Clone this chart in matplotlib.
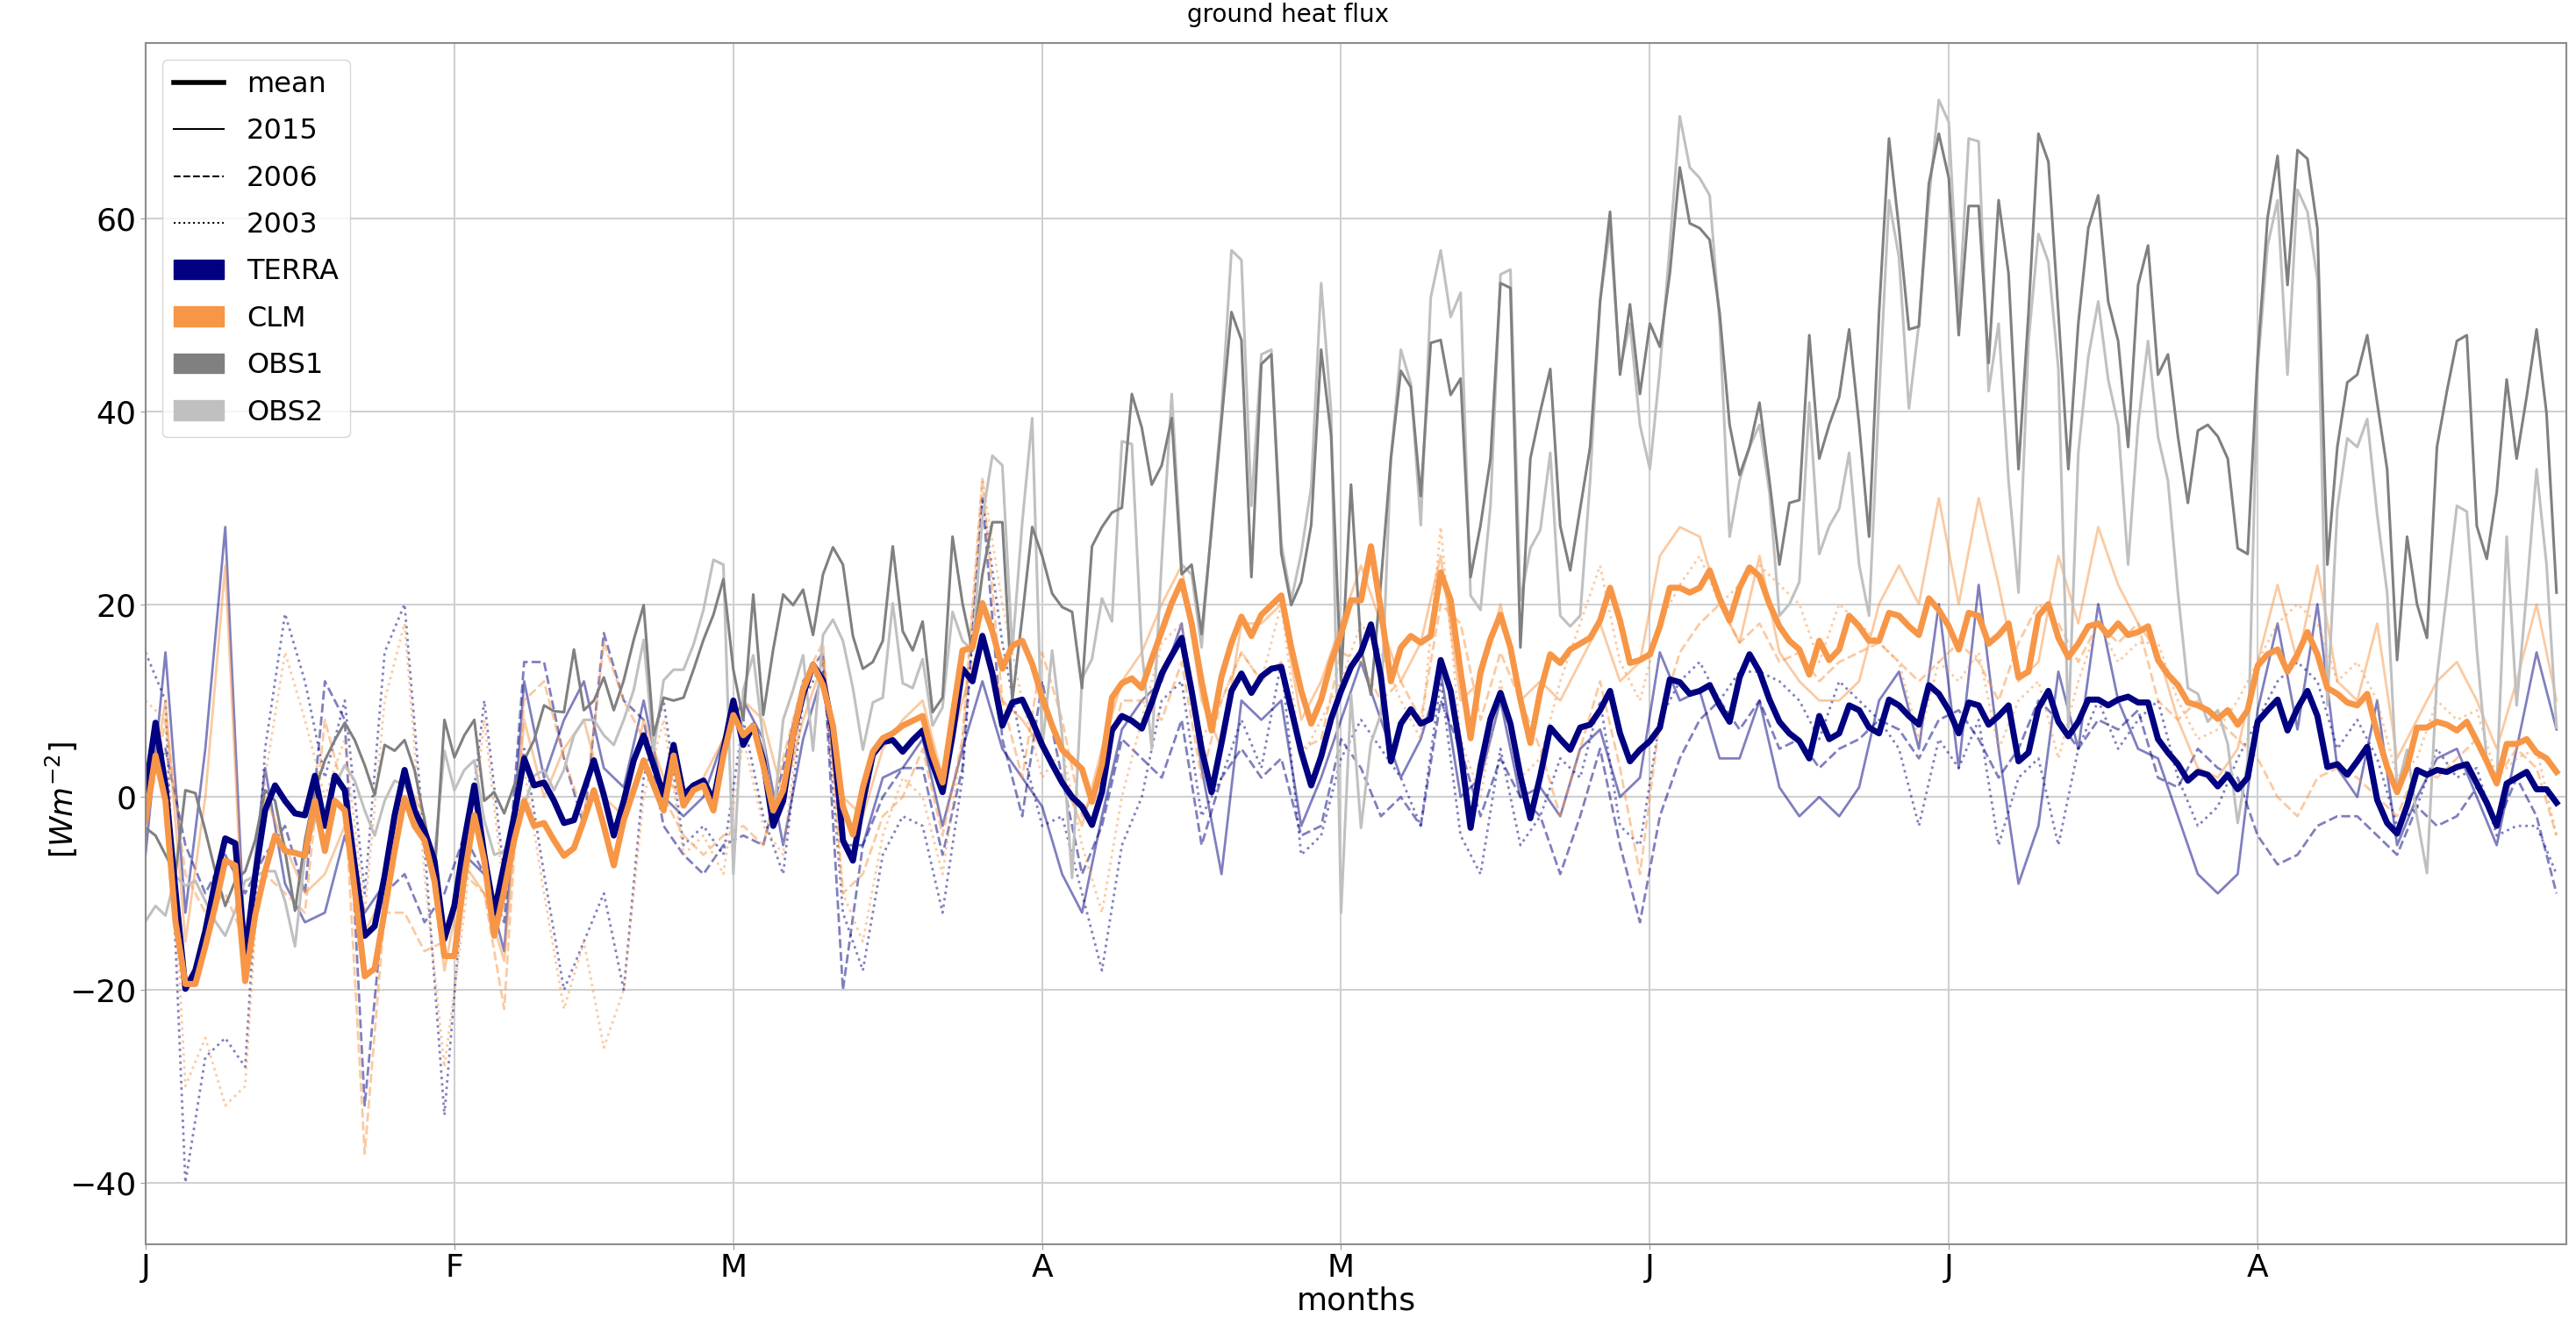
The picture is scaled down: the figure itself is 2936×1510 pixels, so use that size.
import numpy as np
import matplotlib
matplotlib.use("Agg")
import matplotlib.pyplot as plt
from matplotlib.lines import Line2D
from matplotlib.patches import Patch

month_ticks = [0, 31, 59, 90, 120, 151, 181, 212]
month_labels = ['J', 'F', 'M', 'A', 'M', 'J', 'J', 'A']

# daily values, 1 Jan - 31 Aug
terra_mean = [
    0.5, 7.7, 1.2, -9.7, -19.9, -18, -13.9, -8.7, -4.3, -4.8, -16.5, -8.2, -1.4, 1.2, -0.4, -1.7, -1.9, 2.2, -3, 2.2,
    0.7, -7.1, -14.4, -13.4, -8.2, -1.9, 2.8, -1.4, -3.5, -6.6, -14.7, -11.3, -4.5, 1.2, -6,
    -12, -7, -2, 4, 1.2, 1.5, -0.4, -2.7, -2.4, 0.7, 3.8, 0.2, -4, -0.4, 3.8, 6.4, 3.3, 0.2, 5.4, 0.2,
    1.2, 1.7, -0.4, 4.8, 10, 5.4, 7.4, 3.8, -3, -0.4, 6.4, 10.6, 13.7, 12.1, 6.9, -4.5,
    -6.6, -0.5, 4.4, 5.7, 5.9, 4.7, 5.9, 6.9, 3.4, 0.5, 6.4, 13.3, 12, 16.7, 12.8, 7.4, 9.8, 10.1, 7.9, 5.4,
    3.4, 1.5, 0, -1, -2.9, 0.5, 6.9, 8.4, 7.9, 7.1, 9.8, 12.8, 14.7, 16.5, 11,
    5, 0.5, 5.6, 11, 12.8, 10.8, 12.5, 13.3, 13.5, 9.1, 4.7, 1.2, 4.2, 8.1, 11, 13.5, 15, 17.9, 12.5, 3.7,
    7.6, 9.1, 7.6, 8.1, 14.2, 11, 4.7, -3.2, 3.2, 8.1, 10.8, 7.6, 2.2, -2.2, 2.2,
    7.2, 6, 4.9, 7.2, 7.5, 9, 11, 6.6, 3.7, 4.9, 5.8, 7.2, 12.2, 11.9, 10.7, 11, 11.6, 9.5, 7.8, 12.4,
    14.8, 13, 10.1, 7.8, 6.6, 5.8, 4, 8.4, 6, 6.6, 9.5, 9, 7.2, 6.6, 10.1,
    9.5, 8.4, 7.5, 11.6, 10.7, 9, 6.6, 9.8, 9.5, 7.5, 8.4, 9.5, 3.7, 4.6, 9.2, 11, 7.8, 6.3, 7.8, 10.1,
    10.1, 9.5, 10.1, 10.4, 9.8, 9.8, 6, 4.6, 3.4, 1.7, 2.6, 2.3, 1.1, 2.3, 0.8, 2,
    7.8, 9, 10.1, 6.9, 9.2, 11, 8.4, 3.1, 3.4, 2.3, 3.7, 5.2, -0.3, -2.7, -3.8, -0.9, 2.8, 2.3, 2.8, 2.6,
    3.1, 3.4, 1.4, -0.6, -3, 1.4, 2, 2.6, 0.8, 0.8, -0.6]

clm_mean = [
    -2.4, 4.3, -0.4, -12.9, -19.4, -19.4, -15.5, -11.3, -6.6, -7.1, -19.1, -12.3, -7.7, -4, -5.6, -5.8, -6.1, -0.4, -5.6, -0.4,
    -1.4, -9.7, -18.6, -17.8, -11.8, -5.6, -0.1, -3, -4.5, -8.7, -16.5, -16.5, -8.2, -1.9, -6.6,
    -14.4, -9.7, -4.5, -0.4, -3, -2.7, -4.5, -6.1, -5.3, -2.4, 0.7, -3, -7.1, -2.4, 0.7, 3.8, 1.2, -1.4, 4.3, -0.9,
    0.7, 1.2, -1.4, 4.3, 8.5, 6.4, 7.4, 3.3, -1.4, 0.7, 6.4, 11.1, 13.7, 11.6, 7.4, -1,
    -3.9, 1, 4.7, 6.1, 6.6, 7.4, 7.9, 8.4, 4.4, 1.5, 8.4, 15.2, 15.5, 20.1, 17.2, 13.3, 15.7, 16.2, 13.8, 10.3,
    7.4, 4.9, 3.9, 2.9, -0.5, 3.4, 10.3, 11.8, 12.3, 11.3, 14.3, 17.2, 20.1, 22.4, 18,
    12, 6.9, 12.5, 16, 18.7, 16.7, 18.9, 19.9, 20.9, 15.5, 11, 7.6, 10.1, 14, 16.9, 20.4, 20.4, 26, 19.4, 12,
    15.5, 16.7, 16, 16.7, 23.3, 20.4, 13, 6.1, 13, 16.4, 18.9, 15.5, 10.1, 5.6, 11,
    14.8, 13.9, 15.3, 15.9, 16.5, 18.3, 21.7, 18.3, 13.9, 14.2, 14.8, 17.7, 21.7, 21.7, 21.2, 21.7, 23.5, 20.6, 18.3, 21.7,
    23.8, 22.9, 20, 17.7, 16.2, 15.3, 12.7, 16.2, 14.2, 15.3, 18.8, 17.7, 16.2, 16.2, 19.1,
    18.8, 17.7, 16.8, 20.6, 19.4, 17.7, 15.3, 19.1, 18.8, 15.9, 16.8, 18, 12.4, 13, 18.8, 20, 16.5, 14.5, 15.9, 17.7,
    18, 16.8, 18, 16.8, 17.1, 17.7, 14.2, 12.7, 11.6, 9.8, 9.5, 9, 8.1, 9, 7.5, 9,
    13.6, 14.8, 15.3, 13, 14.8, 17.1, 14.8, 11.3, 10.7, 9.8, 9.5, 10.7, 6.6, 3.1, 0.5, 3.1, 7.2, 7.2, 7.8, 7.5,
    6.9, 7.8, 5.8, 3.7, 1.4, 5.5, 5.5, 6, 4.6, 4, 2.6]

obs1 = [
    -3.2, -4, -6, -8, 0.7, 0.4, -3.5, -7.7, -11.3, -8.7, -7.7, -4.5, 0.7, -0.4, -5.6, -11.8, -4.5, 0.7, 3.8, 5.9,
    7.7, 5.9, 3.3, 0.2, 5.4, 4.8, 5.9, 2.8, -2.4, -8.2, 8, 4.1, 6.4, 8, -0.4,
    0.5, -1.7, 1.2, 3.8, 5.9, 9.5, 8.9, 8.8, 15.3, 9, 10, 12.4, 9, 12.1, 16.3, 19.9, 6.4, 10.3, 10, 10.3,
    13.2, 16.3, 18.9, 22.6, 13.2, 8, 21, 8.5, 15.3, 21, 19.9, 21.5, 16.8, 23.1, 25.9, 24.1,
    16.7, 13.3, 14, 16.2, 26, 17.2, 15.2, 18.2, 8.8, 10.3, 27, 20.1, 15.2, 23.1, 28.5, 28.5, 10, 18.7, 28, 25,
    21.1, 19.7, 19.2, 11.3, 26, 28, 29.5, 30, 41.8, 38.3, 32.4, 34.4, 39.3, 23.1, 24.1,
    16.9, 27.7, 39, 50.3, 47.4, 22.8, 44.9, 45.9, 25.3, 19.9, 22.3, 28.2, 46.4, 37.5, 12, 32.4, 15.5, 10.6, 22.3, 35.1,
    44.2, 42.5, 31.2, 47.1, 47.4, 41.7, 43.4, 22.8, 28.2, 35.1, 53.3, 52.8, 15.5, 35.1, 40,
    44.4, 28.1, 23.5, 29.9, 36.3, 51.4, 60.7, 43.8, 51.1, 41.8, 49.1, 46.7, 54.3, 65.3, 59.5, 59, 57.8, 50.2, 38.6, 33.4,
    36.3, 40.9, 32.8, 24.1, 30.5, 30.8, 47.9, 35.1, 38.6, 41.5, 48.5, 38.6, 27, 50.2, 68.3,
    59, 48.5, 48.8, 63.6, 68.8, 64.2, 47.9, 61.3, 61.3, 45, 61.9, 54.3, 34, 50.2, 68.8, 65.9, 50.2, 34, 49.1, 59,
    62.4, 51.4, 47.3, 36.3, 53.1, 57.2, 43.8, 45.9, 37.4, 30.5, 38, 38.6, 37.4, 35.1, 25.8, 25.2,
    45.6, 60.1, 66.5, 53.1, 67.1, 66.2, 59, 24.1, 36.3, 43, 43.8, 47.9, 40.9, 34, 14.2, 27, 20, 16.5, 36.3, 42.1,
    47.3, 47.9, 28.1, 24.7, 31.6, 43.3, 35.1, 41.5, 48.5, 39.8, 21.2]

obs2 = [
    -12.9, -11.3, -12.3, -8.2, -9.2, -8.7, -10.8, -12.9, -14.4, -11.8, -8.7, -8.2, -7.7, -7.7, -10.8, -15.5, -6.1, -2.4, -1.4, 1.2,
    3.3, 1.7, -1.4, -4, -0.4, 1.7, 1.2, -0.4, -4.5, -6.1, 4.8, 0.7, 2.8, 3.8, -2.4,
    -6, -5.6, -3.5, -0.9, 2.2, 2.8, 0.7, 2.8, 6.4, 8, 8, 6.4, 5.4, 8, 11.1, 16.3, 4.8, 12.1, 13.2, 13.2,
    15.8, 19.4, 24.6, 24.1, -8, 11.1, 14.7, 5.9, -2.4, 8, 11.1, 14.7, 4.8, 16.8, 18.4, 16.2,
    11.3, 4.9, 9.8, 10.3, 20.1, 11.8, 11.3, 14.3, 7.4, 9.3, 19.2, 16.2, 15.2, 29, 35.4, 34.4, 15.2, 28.5, 39.3, 5,
    15.2, 6.4, -8.4, 12.3, 14.3, 20.6, 18.2, 36.9, 36.6, 15.2, 5, 24.6, 41.8, 24.1, 23.1,
    15.5, 28.2, 40, 56.7, 55.7, 30.2, 45.9, 46.4, 26.3, 20.4, 25.3, 32.1, 53.3, 40, -12, 10.6, -3.2, 5.6, 8.6, 35.1,
    46.4, 42.9, 28.2, 51.8, 56.7, 49.8, 52.3, 20.9, 19.4, 30.2, 54.2, 54.7, 20.4, 25.8, 27.7,
    35.7, 18.8, 17.7, 18.8, 32.8, 51.4, 59, 44.4, 49.1, 38.6, 34, 44.4, 57.2, 70.6, 65.3, 64.2, 62.4, 49.1, 27, 32.8,
    36.3, 38.6, 31.6, 18.8, 20, 22.3, 40.9, 25.2, 28.1, 29.9, 35.7, 24.1, 18.8, 41.5, 61.9,
    56, 40.3, 49.1, 61.9, 72.3, 70, 50.2, 68.3, 68, 42.1, 49.1, 32.8, 21.2, 47.3, 58.4, 55.5, 44.4, 7.2, 35.7, 45.6,
    51.4, 43.3, 38.6, 24.1, 38.6, 47.3, 37.4, 32.8, 21.2, 11.3, 10.7, 7.8, 9, 5.5, -2.7, 3.7,
    44.4, 57.2, 61.9, 43.8, 63, 60.7, 53.7, 9.5, 29.9, 37.2, 36.3, 39.2, 29.3, 21.2, 0.8, 4.9, -2.1, -7.9, 12.4, 21.2,
    30.2, 29.6, 15.3, 3.7, 1.4, 27, 9.5, 21.2, 34, 24.1, 7.2]

# single years, every second day
terra_2015 = [
    -6, 15, -12, 5, 28, -16, 3, -9, -13, -12, -4, -12, -9, 0, -4, -15, -6, -8, -16, 12,
    2, 8, 12, 3, 1, 10, 0, -2, 0, 6, 10, 6, -5, 6, 13, -5, -5, 2, 3, 6,
    -3, 5, 12, 5, 2, -1, -8, -12, -2, 7, 10, 12, 18, 3, -8, 10, 8, 10, -3, 2,
    8, 14, 8, 2, 6, 13, 0, 2, 10, 0, 1, -2, 5, 7, 0, 2, 15, 10, 11, 4,
    4, 10, 1, -2, 0, -2, 1, 10, 13, 5, 20, 3, 22, 5, -9, -3, 13, 5, 20, 10,
    5, 4, -2, -8, -10, -8, 9, 18, 7, 20, 3, 0, 10, -5, 0, 4, 5, 0, -5, 5,
    15, 7]
terra_2006 = [
    0, 5, -5, -10, -6, -10, -6, -3, -10, 12, 8, -32, -10, -8, -13, -10, -4, -8, -13, 14,
    14, 4, -3, 17, 10, 8, -3, -6, -8, -5, -4, -5, 3, 12, 15, -20, -5, 0, 3, 3,
    -6, 3, 31, 6, -2, 12, 2, -8, -3, 6, 4, 2, 8, -5, 2, 5, 2, 4, -4, -3,
    6, 3, -2, 0, -3, 10, 5, -2, 4, 0, -2, -8, -2, 5, -5, -13, -2, 4, 8, 10,
    7, 10, 5, 6, 3, 5, 6, 8, 7, 4, 8, 9, 6, 2, 5, 10, 8, 5, 8, 7,
    9, 2, 1, 5, 3, 2, -4, -7, -6, -3, -2, -2, -4, -6, -1, -3, -2, 1, -3, 2,
    -2, -10]
terra_2003 = [
    15, 10, -40, -27, -25, -28, 5, 19, 12, 2, 10, -10, 15, 20, -5, -33, -8, 10, -8, 5,
    -8, -20, -15, -10, -20, 2, 10, -5, -3, -6, 8, -2, -8, 10, 14, -12, -18, -6, -2, -3,
    -12, 2, 31, 16, 5, -3, -2, -10, -18, -5, 0, 10, 12, -2, 2, 8, 3, 14, -6, -4,
    4, 8, 5, 2, -3, 12, -4, -8, 5, -5, -2, 4, 2, 10, -3, -5, 8, 12, 14, 10,
    13, 13, 12, 10, 6, 12, 10, 8, 5, -3, 6, 3, 8, -5, 2, 4, -5, 5, 10, 5,
    8, 10, 2, -3, -1, 4, 8, 12, 14, 12, 5, 8, 4, -3, -1, 5, 2, 3, -4, -3,
    -3, -8]
clm_2015 = [
    -3, 10, -15, 0, 24, -18, 0, -5, -10, -8, -3, -14, -10, 2, -2, -18, -7, -10, -17, 8,
    0, 5, 8, 0, -2, 8, 2, 0, 2, 6, 10, 8, 0, 8, 14, 0, -2, 5, 8, 10,
    2, 10, 17, 10, 8, 5, 2, -3, 5, 12, 15, 20, 24, 10, 5, 18, 18, 20, 8, 12,
    18, 24, 18, 12, 16, 25, 10, 12, 20, 10, 12, 10, 14, 18, 12, 14, 25, 28, 27, 20,
    16, 25, 15, 12, 10, 10, 12, 20, 24, 20, 31, 20, 31, 22, 12, 14, 25, 18, 28, 22,
    18, 15, 8, 3, 2, 5, 14, 22, 14, 24, 12, 10, 18, 4, 8, 12, 14, 10, 5, 12,
    20, 10]
clm_2006 = [
    -3, 8, -8, -12, -10, -15, -8, -10, -12, 8, 0, -37, -12, -12, -16, -15, -8, -10, -22, 10,
    12, 4, -2, 16, 10, 6, 0, -4, -6, -4, -3, -5, 4, 12, 16, -10, -8, -2, 0, 5,
    -4, 6, 33, 10, 2, 15, 8, -2, 2, 10, 10, 8, 14, 2, 10, 15, 12, 14, 5, 6,
    15, 14, 10, 12, 8, 20, 18, 8, 15, 10, 5, -2, 5, 12, 3, -8, 8, 15, 18, 20,
    16, 18, 14, 15, 12, 14, 15, 16, 14, 12, 14, 16, 14, 10, 16, 20, 18, 14, 18, 16,
    18, 10, 8, 10, 8, 6, 4, 0, -2, 2, 3, 2, 0, -2, 3, 2, 4, 6, 2, 5,
    3, -4]
clm_2003 = [
    10, 8, -30, -25, -32, -30, 2, 15, 8, 0, 6, -12, 10, 18, -8, -28, -12, 8, -10, 3,
    -10, -22, -15, -26, -20, 0, 8, -6, -4, -8, 6, -3, -6, 12, 15, -10, -15, -4, 2, 0,
    -8, 6, 33, 20, 10, 2, 5, -5, -12, 0, 8, 16, 18, 6, 10, 15, 12, 20, 4, 8,
    12, 18, 15, 10, 6, 28, 6, 0, 12, 2, 4, 12, 18, 24, 14, 10, 18, 22, 25, 20,
    22, 24, 22, 20, 14, 20, 18, 16, 14, 6, 14, 12, 15, 5, 10, 12, 4, 12, 18, 14,
    16, 16, 10, 6, 7, 10, 14, 18, 20, 18, 12, 14, 10, 2, 4, 10, 8, 9, 2, 4,
    5, -4]

terra_col = 'navy'
clm_col = '#f79646'
obs1_col = 'gray'
obs2_col = 'silver'

fig = plt.figure(figsize=(29.36, 15.10), dpi=100)
ax = fig.add_axes([0.0565, 0.0609, 0.9398, 0.9066])

years = [(terra_2015, '-'), (terra_2006, '--'), (terra_2003, ':')]
for vals, ls in years:
    ax.plot(2 * np.arange(len(vals)), vals, color=terra_col, ls=ls, lw=2, alpha=0.5)
years = [(clm_2015, '-'), (clm_2006, '--'), (clm_2003, ':')]
for vals, ls in years:
    ax.plot(2 * np.arange(len(vals)), vals, color=clm_col, ls=ls, lw=2, alpha=0.5)

ax.plot(np.arange(len(obs2)), obs2, color=obs2_col, lw=2.2)
ax.plot(np.arange(len(obs1)), obs1, color=obs1_col, lw=2.2)
ax.plot(np.arange(len(terra_mean)), terra_mean, color=terra_col, lw=5)
ax.plot(np.arange(len(clm_mean)), clm_mean, color=clm_col, lw=5)

ax.set_xlim(0, 243)
ax.set_ylim(-46.4, 78.2)
ax.set_xticks(month_ticks)
ax.set_xticklabels(month_labels)
ax.set_yticks([-40, -20, 0, 20, 40, 60])
ax.tick_params(labelsize=26, length=4, color='0.6')
ax.grid(True, color='#d0d0d0', lw=1.5)
ax.set_axisbelow(True)
for s in ax.spines.values():
    s.set_color('0.55')
    s.set_linewidth(1.5)

fig.suptitle('ground heat flux', fontsize=20, x=0.5, y=0.989, va='center')
ax.set_xlabel('months', fontsize=26, labelpad=2)
ax.set_ylabel('[$Wm^{-2}$]', fontsize=25)
ax.yaxis.set_label_coords(-0.027, 0.37)

handles = [Line2D([], [], color='k', lw=4),
           Line2D([], [], color='k', lw=1.5),
           Line2D([], [], color='k', lw=1.5, ls='--'),
           Line2D([], [], color='k', lw=1.5, ls=':'),
           Patch(color=terra_col), Patch(color=clm_col),
           Patch(color=obs1_col), Patch(color=obs2_col)]
labels = ['mean', '2015', '2006', '2003', 'TERRA', 'CLM', 'OBS1', 'OBS2']
ax.legend(handles, labels, loc='upper left', fontsize=23, labelspacing=0.7,
          handlelength=1.8, borderaxespad=0.6)

fig.savefig('out.png', dpi=100)
